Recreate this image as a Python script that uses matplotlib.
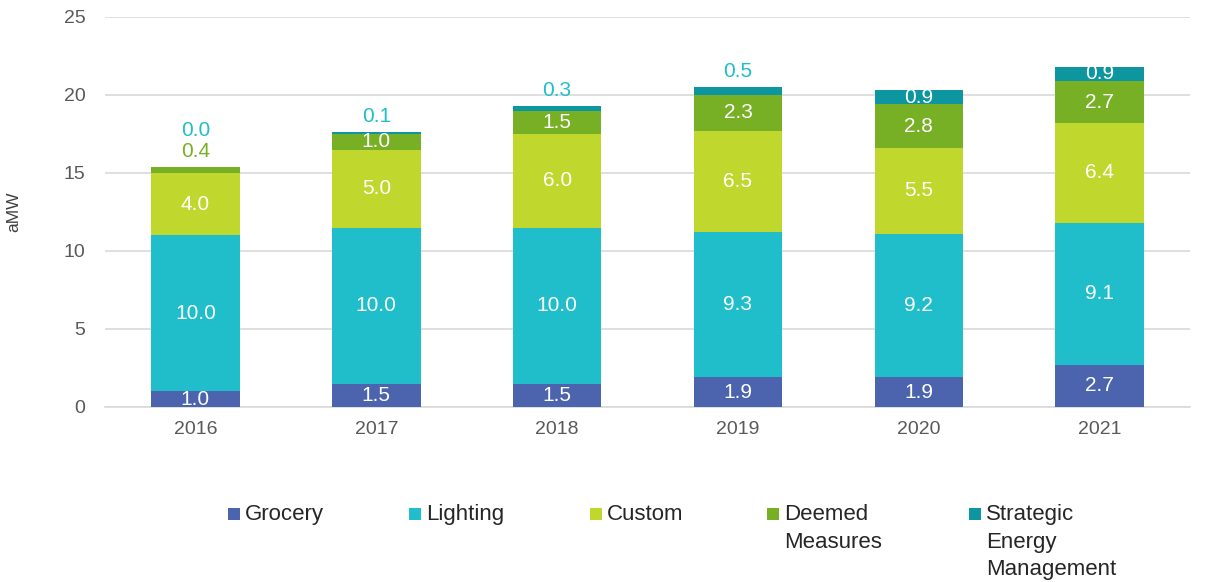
import numpy as np
import matplotlib
matplotlib.use('Agg')
import matplotlib.pyplot as plt
from matplotlib.patches import Rectangle

plt.rcParams['font.family'] = ['Liberation Sans', 'DejaVu Sans']

years = ['2016', '2017', '2018', '2019', '2020', '2021']
series = ['Grocery', 'Lighting', 'Custom', 'Deemed\nMeasures', 'Strategic\nEnergy\nManagement']
grocery = [1.0, 1.5, 1.5, 1.9, 1.9, 2.7]
lighting = [10.0, 10.0, 10.0, 9.3, 9.2, 9.1]
custom = [4.0, 5.0, 6.0, 6.5, 5.5, 6.4]
deemed = [0.4, 1.0, 1.5, 2.3, 2.8, 2.7]
sem = [0.0, 0.1, 0.3, 0.5, 0.9, 0.9]

colors = ['#4C63AE', '#1FBECA', '#C0D82E', '#77B024', '#0D95A0']
label_out_colors = ['#4C63AE', '#1FBECA', '#C0D82E', '#77B024', '#1FBECA']

data = [grocery, lighting, custom, deemed, sem]

fig = plt.figure(figsize=(12.07, 5.82), dpi=100)
ax = fig.add_axes([0.087, 0.3007, 0.899, 0.6701])

x = np.arange(len(years))
bottom = np.zeros(len(years))
tops = np.array(data).sum(axis=0)
for i, vals in enumerate(data):
    vals = np.array(vals)
    ax.bar(x, vals, 0.49, bottom=bottom, color=colors[i], linewidth=0, zorder=3)
    for j, v in enumerate(vals):
        if v >= 0.8:
            ax.text(x[j], bottom[j] + v / 2, f'{v:.1f}', ha='center', va='center',
                    color='white', fontsize=15, zorder=4)
    bottom = bottom + vals

# small segments labelled above the bar
for j in range(len(years)):
    off = 1.0
    for i in (3, 4):
        v = data[i][j]
        if v < 0.8:
            ax.text(x[j], tops[j] + off, f'{v:.1f}', ha='center', va='center',
                    color=label_out_colors[i], fontsize=15, zorder=4)
            off += 1.35

ax.set_ylim(0, 25)
ax.set_xlim(-0.5, 5.5)
ax.set_yticks([0, 5, 10, 15, 20, 25])
ax.set_xticks(x)
ax.set_xticklabels(years)
ax.yaxis.grid(True, color='#D9D9D9', linewidth=1.2, zorder=0)
for s in ['left', 'right', 'top']:
    ax.spines[s].set_visible(False)
ax.spines['bottom'].set_color('#D9D9D9')
ax.spines['bottom'].set_linewidth(1.2)
ax.tick_params(axis='both', length=0, labelsize=14, labelcolor='#595959')
ax.tick_params(axis='x', pad=10)
ax.tick_params(axis='y', pad=14)
ax.set_ylabel('aMW', fontsize=12.5, color='#404040')
ax.yaxis.set_label_coords(-0.077, 0.5)

# legend drawn by hand so handles align with the first text line
leg_x = [228, 409, 590, 767, 969]
for i, name in enumerate(series):
    px = leg_x[i] / 1207
    fig.add_artist(Rectangle((px, 1 - 520 / 582), 12 / 1207, 12 / 582,
                             transform=fig.transFigure, color=colors[i], linewidth=0))
    fig.text(px + 17 / 1207, 1 - 504 / 582, name, ha='left', va='top',
             fontsize=16, color='#262626', linespacing=1.42)

fig.savefig('out.png', dpi=100)
